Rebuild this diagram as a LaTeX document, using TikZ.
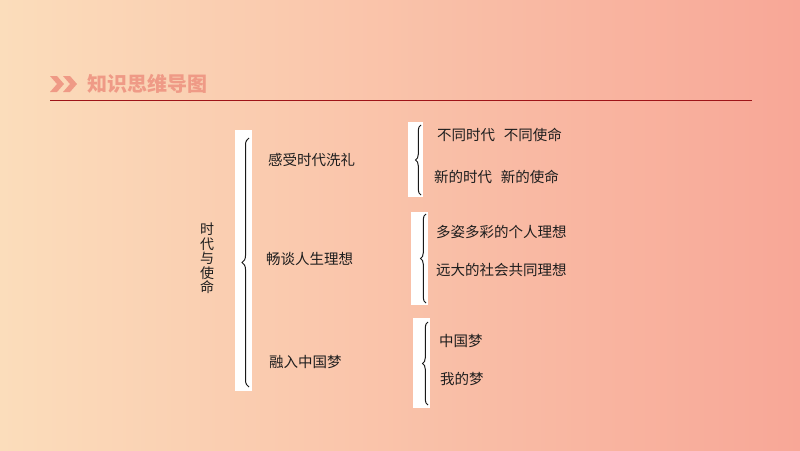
\documentclass[tikz,border=0pt]{standalone}
\usepackage{fontspec}
\setmainfont{Noto Sans CJK SC}
\usetikzlibrary{decorations.pathreplacing}
\definecolor{bgl}{HTML}{FBDDBB}
\definecolor{bgr}{HTML}{F8A797}
\definecolor{titlec}{HTML}{EF9A86}
\definecolor{linec}{HTML}{9E1418}
\definecolor{txt}{HTML}{1E1E1E}
\tikzset{
  lbl/.style={anchor=west, inner sep=0pt, text=txt, font=\fontsize{14.5}{16}\selectfont},
  bracebox/.style={fill=white, draw=none},
  bracelines/.style={decorate, decoration={brace, amplitude=#1}, draw=black!90, line width=1pt},
}
\begin{document}
\begin{tikzpicture}[x=1pt,y=-1pt]
\useasboundingbox (0,0) rectangle (800,450);
\shade[left color=bgl,right color=bgr] (0,0) rectangle (800,450);
% header
\fill[titlec] (50,76) -- (57,76) -- (64,84) -- (57,92) -- (50,92) -- (57,84) -- cycle;
\fill[titlec] (63,76) -- (70,76) -- (77,84) -- (70,92) -- (63,92) -- (70,84) -- cycle;
\node[anchor=west, inner sep=0pt, text=titlec, font=\fontsize{20}{22}\selectfont\bfseries] (title) at (87,84) {知识思维导图};
\draw[linec, line width=1.5pt] (50,100.5) -- (752,100.5);
% big brace
\fill[bracebox] (235,130) rectangle (252,391);
\draw[bracelines=7pt] (249,387) -- (249,138);
\node[anchor=center, inner sep=0pt, text=txt, align=center, font=\fontsize{14}{14.6}\selectfont] (root) at (207,258.5) {时\\代\\与\\使\\命};
% level 2
\node[lbl] (a) at (268,160) {感受时代洗礼};
\node[lbl] (b) at (266,259) {畅谈人生理想};
\node[lbl] (c) at (269,362) {融入中国梦};
% small braces
\fill[bracebox] (408,122) rectangle (423,197);
\draw[bracelines=5.5pt] (421,195) -- (421,125);
\fill[bracebox] (411,212) rectangle (428,305);
\draw[bracelines=5.5pt] (426,303) -- (426,214);
\fill[bracebox] (413,318) rectangle (430,408);
\draw[bracelines=5.5pt] (428,405) -- (428,322);
% leaves
\node[lbl] (a1) at (437,135) {不同时代\hspace{0.6em}不同使命};
\node[lbl] (a2) at (434,177) {新的时代\hspace{0.6em}新的使命};
\node[lbl] (b1) at (436,232) {多姿多彩的个人理想};
\node[lbl] (b2) at (436,270) {远大的社会共同理想};
\node[lbl] (c1) at (439,341) {中国梦};
\node[lbl] (c2) at (440,379) {我的梦};
\end{tikzpicture}
\end{document}
